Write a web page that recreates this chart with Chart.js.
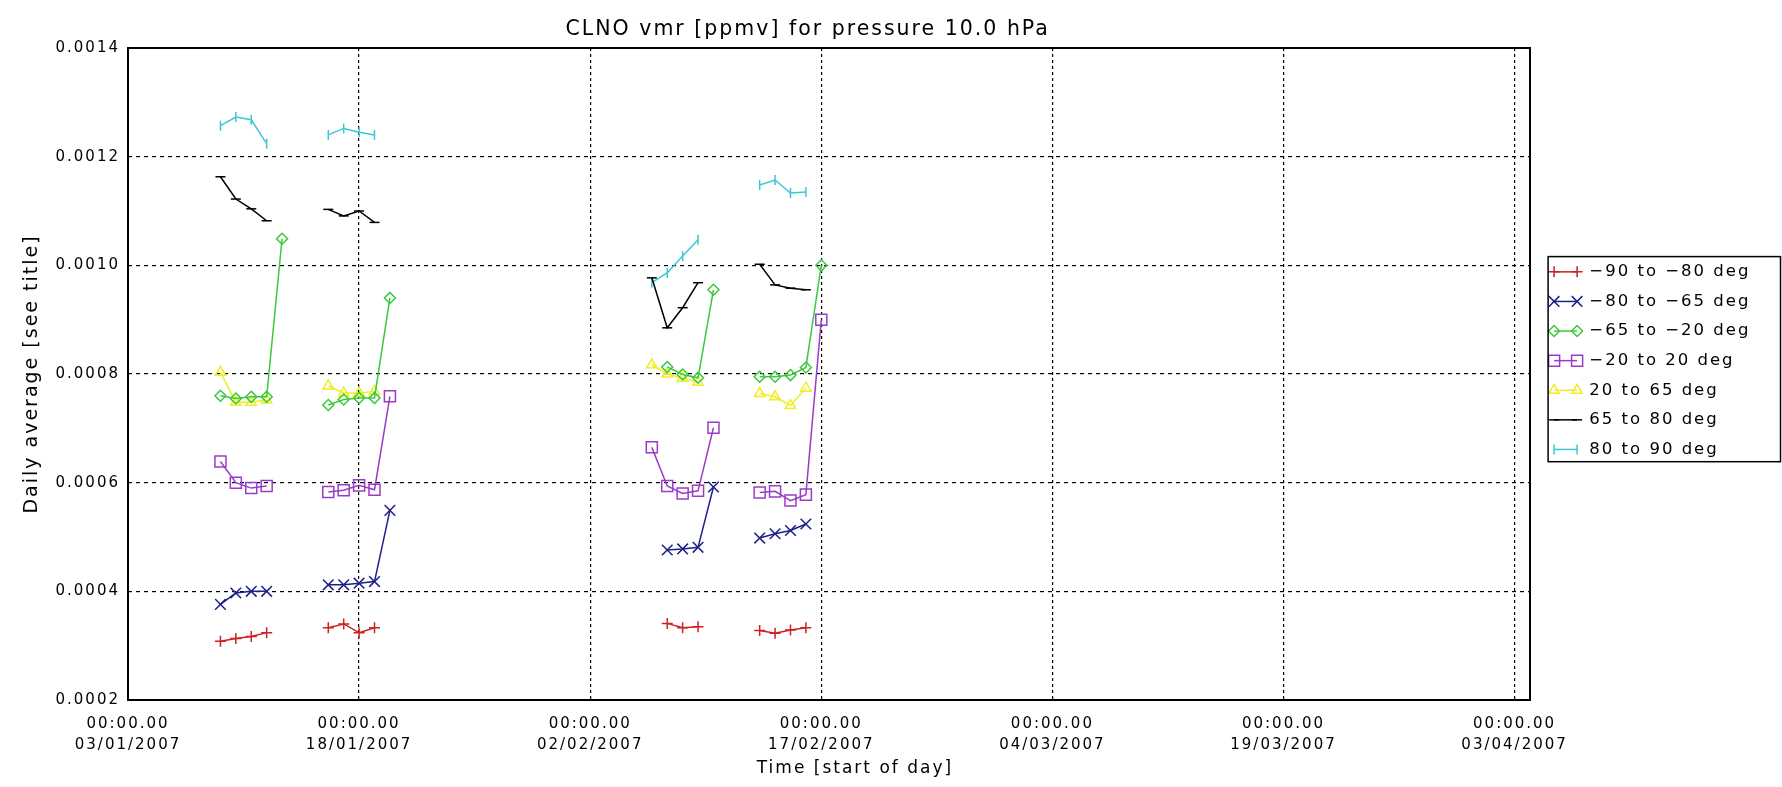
<!DOCTYPE html>
<html>
<head>
<meta charset="utf-8">
<title>CLNO vmr</title>
<script src="https://cdn.jsdelivr.net/npm/chart.js"></script>
<style>
  html, body { margin: 0; padding: 0; background: #fff; }
</style>
</head>
<body>
<canvas id="chart" width="1782" height="787"></canvas>
<script>
// first day of the time axis (03/01/2007), ticks every 15 days
const startDay = Date.UTC(2007, 0, 3);
const axisDays = 91;
const tickStep = 15;

// days with data (an empty day closes each group of points)
const dates = [
  '2007-01-09', '2007-01-10', '2007-01-11', '2007-01-12', '2007-01-13', '2007-01-14',
  '2007-01-16', '2007-01-17', '2007-01-18', '2007-01-19', '2007-01-20', '2007-01-21',
  '2007-02-06', '2007-02-07', '2007-02-08', '2007-02-09', '2007-02-10', '2007-02-11',
  '2007-02-13', '2007-02-14', '2007-02-15', '2007-02-16', '2007-02-17'
];

const labels = ['−90 to −80 deg', '−80 to −65 deg', '−65 to −20 deg', '−20 to 20 deg',
  '20 to 65 deg', '65 to 80 deg', '80 to 90 deg'];

const band1 = [3.08e-4, 3.13e-4, 3.17e-4, 3.24e-4, null, null,
  3.33e-4, 3.40e-4, 3.24e-4, 3.33e-4, null, null,
  null, 3.41e-4, 3.33e-4, 3.35e-4, null, null,
  3.28e-4, 3.23e-4, 3.29e-4, 3.33e-4, null];
const band2 = [3.76e-4, 3.97e-4, 4.00e-4, 4.00e-4, null, null,
  4.12e-4, 4.12e-4, 4.15e-4, 4.18e-4, 5.49e-4, null,
  null, 4.76e-4, 4.78e-4, 4.81e-4, 5.92e-4, null,
  4.98e-4, 5.06e-4, 5.12e-4, 5.24e-4, null];
const band3 = [7.60e-4, 7.55e-4, 7.58e-4, 7.58e-4, 1.049e-3, null,
  7.43e-4, 7.53e-4, 7.56e-4, 7.56e-4, 9.40e-4, null,
  null, 8.13e-4, 7.99e-4, 7.93e-4, 9.55e-4, null,
  7.95e-4, 7.95e-4, 7.98e-4, 8.12e-4, 1.0e-3];
const band4 = [6.39e-4, 6.00e-4, 5.90e-4, 5.94e-4, null, null,
  5.83e-4, 5.86e-4, 5.95e-4, 5.87e-4, 7.59e-4, null,
  6.65e-4, 5.94e-4, 5.80e-4, 5.85e-4, 7.01e-4, null,
  5.82e-4, 5.84e-4, 5.67e-4, 5.78e-4, 9.00e-4];
const band5 = [8.03e-4, 7.48e-4, 7.48e-4, 7.52e-4, null, null,
  7.78e-4, 7.65e-4, 7.65e-4, 7.68e-4, null, null,
  8.17e-4, 8.00e-4, 7.92e-4, 7.85e-4, null, null,
  7.64e-4, 7.58e-4, 7.42e-4, 7.74e-4, null];
const band6 = [1.163e-3, 1.122e-3, 1.104e-3, 1.082e-3, null, null,
  1.103e-3, 1.091e-3, 1.100e-3, 1.079e-3, null, null,
  9.77e-4, 8.85e-4, 9.22e-4, 9.68e-4, null, null,
  1.002e-3, 9.64e-4, 9.58e-4, 9.55e-4, null];
const band7 = [1.257e-3, 1.273e-3, 1.268e-3, 1.224e-3, null, null,
  1.240e-3, 1.252e-3, 1.245e-3, 1.240e-3, null, null,
  9.68e-4, 9.86e-4, 1.017e-3, 1.047e-3, null, null,
  1.148e-3, 1.157e-3, 1.133e-3, 1.135e-3, null];

const yTicks = { min: 0.0002, max: 0.0014, step: 0.0002 };

const styles = [
  { color: '#cc2222', point: 'cross', radius: 5.5, rot: 0 },
  { color: '#1e1e8c', point: 'crossRot', radius: 7.5, rot: 0 },
  { color: '#3cc83c', point: 'rectRot', radius: 5.5, rot: 0 },
  { color: '#9a3cc8', point: 'rect', radius: 7.8, rot: 0 },
  { color: '#eeee22', point: 'triangle', radius: 6, rot: 0 },
  { color: '#000000', point: 'line', radius: 5, rot: 0 },
  { color: '#3cc8d2', point: 'line', radius: 5, rot: 90 }
];
const bands = [band1, band2, band3, band4, band5, band6, band7];

const legendFont = 16.5;

const dayOf = s => (Date.parse(s) - startDay) / 86400000;
const pad2 = n => String(n).padStart(2, '0');
function fmtDay(v) {
  const d = new Date(startDay + v * 86400000);
  return pad2(d.getUTCDate()) + '/' + pad2(d.getUTCMonth() + 1) + '/' + d.getUTCFullYear();
}

const datasets = bands.map((vals, i) => ({
  label: labels[i],
  data: vals.map((v, k) => ({ x: dayOf(dates[k]), y: v })),
  borderColor: styles[i].color,
  backgroundColor: styles[i].color,
  borderWidth: 1.5,
  pointStyle: styles[i].point,
  pointRotation: styles[i].rot,
  pointRadius: styles[i].radius,
  pointBorderWidth: 1.5,
  pointBackgroundColor: 'rgba(0,0,0,0)',
  pointBorderColor: styles[i].color,
  spanGaps: false,
  tension: 0
}));

const frame = {
  id: 'frame',
  beforeUpdate(chart) { chart.ctx.letterSpacing = '2px'; },
  beforeDraw(chart) { chart.ctx.letterSpacing = '2px'; },
  afterDraw(chart) {
    const { ctx, chartArea: a, legend } = chart;
    ctx.save();
    ctx.setLineDash([]);
    ctx.strokeStyle = '#000';
    ctx.lineWidth = 2;
    ctx.strokeRect(a.left, a.top, a.right - a.left, a.bottom - a.top);
    const hb = legend.legendHitBoxes;
    if (hb && hb.length) {
      // line + two markers in front of every legend entry
      hb.forEach((h, i) => {
        const st = styles[i];
        const y = h.top + legendFont / 2;
        const xa = h.left + 11, xb = h.left + 34;
        ctx.strokeStyle = st.color;
        ctx.fillStyle = 'rgba(0,0,0,0)';
        ctx.lineWidth = 1.5;
        ctx.beginPath(); ctx.moveTo(xa, y); ctx.lineTo(xb, y); ctx.stroke();
        [xa, xb].forEach(x => Chart.helpers.drawPoint(ctx,
          { pointStyle: st.point, rotation: st.rot, radius: st.radius, borderWidth: 1.5 }, x, y));
      });
      const first = hb[0], last = hb[hb.length - 1];
      const x0 = first.left + 5, y0 = first.top - 7;
      const y1 = last.top + last.height + 4;
      ctx.strokeStyle = '#000';
      ctx.lineWidth = 1.5;
      ctx.strokeRect(x0, y0, chart.width - 1.5 - x0, y1 - y0);
    }
    ctx.restore();
  }
};

Chart.defaults.font.family = "'DejaVu Sans', sans-serif";
Chart.defaults.color = '#000';

const chart = new Chart(document.getElementById('chart'), {
  type: 'line',
  data: { datasets },
  plugins: [frame],
  options: {
    responsive: false,
    animation: false,
    devicePixelRatio: 1,
    layout: { padding: { left: 0, right: 0, top: 0, bottom: 0 } },
    plugins: {
      title: {
        display: true,
        text: 'CLNO vmr [ppmv] for pressure 10.0 hPa     ',
        fullSize: false,
        font: { size: 20.5, weight: 'normal' },
        color: '#000',
        padding: { top: 17.5, bottom: 5.9 }
      },
      legend: {
        position: 'right',
        align: 'start',
        fullSize: false,
        maxWidth: 252,
        title: { display: true, text: ' ', font: { size: 10 }, padding: { top: 190.5, bottom: 0 } },
        labels: {
          boxWidth: 38,
          boxHeight: 10,
          padding: 13.1,
          color: '#000',
          font: { size: legendFont },
          generateLabels: c => c.data.datasets.map((ds, i) => ({
            text: ds.label,
            datasetIndex: i,
            fontColor: '#000',
            fillStyle: 'rgba(0,0,0,0)',
            strokeStyle: 'rgba(0,0,0,0)',
            lineWidth: 0,
            hidden: false
          }))
        },
        onClick: null
      },
      tooltip: { enabled: false }
    },
    scales: {
      x: {
        type: 'linear',
        min: 0,
        max: axisDays,
        afterFit: s => { s.height = 87; },
        grid: { color: '#000', lineWidth: 1.2, drawTicks: false },
        border: { display: false, dash: [3, 3] },
        ticks: {
          stepSize: tickStep,
          includeBounds: false,
          autoSkip: false,
          maxRotation: 0,
          padding: 13.6,
          font: { size: 15, lineHeight: 1.38 },
          callback: v => ['00:00.00', fmtDay(v)]
        },
        title: {
          display: true,
          text: '       Time [start of day]',
          font: { size: 17 },
          padding: { top: 0, bottom: 8 }
        }
      },
      y: {
        min: yTicks.min,
        max: yTicks.max,
        afterFit: s => { s.width = 128; },
        grid: { color: '#000', lineWidth: 1.2, drawTicks: false },
        border: { display: false, dash: [4, 4] },
        ticks: {
          stepSize: yTicks.step,
          padding: 8,
          font: { size: 15 },
          callback: v => v.toFixed(4)
        },
        title: {
          display: true,
          text: 'Daily average [see title]',
          font: { size: 19 },
          padding: { top: 20.6, bottom: 0 }
        }
      }
    }
  }
});

// keep the plot frame ending where the legend column starts
const dx = chart.chartArea.right - 1530;
if (Math.abs(dx) > 0.5) {
  chart.options.layout.padding.right = Math.max(0, dx);
  chart.update();
}
</script>
</body>
</html>
